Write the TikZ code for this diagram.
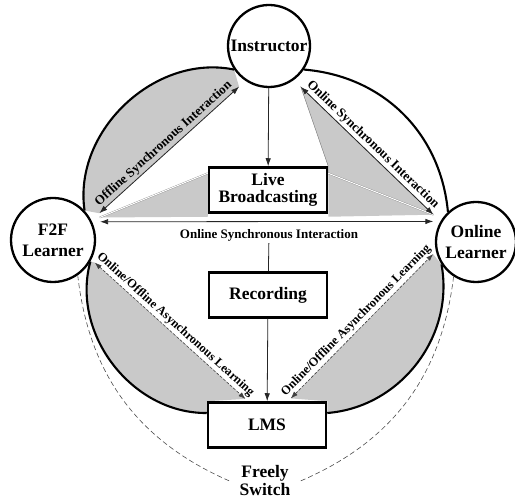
\documentclass[tikz,border=0pt]{standalone}
\usepackage{fontspec}
\setmainfont{Liberation Serif}
\usetikzlibrary{arrows.meta,calc}
\pgfdeclarelayer{bg}
\pgfsetlayers{bg,main}
\begin{document}
\begin{tikzpicture}[x=1pt,y=1pt,
  circ/.style={circle,draw,line width=2.3pt,fill=white,inner sep=0pt,align=center,font=\fontsize{17.5}{21}\selectfont\bfseries},
  box/.style={rectangle,draw,line width=2.5pt,fill=white,minimum width=118pt,minimum height=45pt,inner sep=0pt,align=center,font=\fontsize{17.5}{16.5}\selectfont\bfseries},
  lbl/.style={font=\fontsize{13}{15}\selectfont\bfseries,inner sep=2pt},
  albl/.style={font=\fontsize{12.4}{14}\selectfont\bfseries,inner sep=2pt},
  shadefill/.style={fill=black!21},
  arr/.style={line width=0.8pt,draw=black!85,{Latex[length=8pt,width=5.5pt]}-{Latex[length=8pt,width=5.5pt]}},
  onearr/.style={line width=0.8pt,draw=black!85,-{Latex[length=8pt,width=5.5pt]}},
  darr/.style={line width=0.6pt,draw=black!75,dash pattern=on 3pt off 1.5pt,{Latex[length=7pt,width=5pt]}-{Latex[length=7pt,width=5pt]}},
  outer/.style={line width=2.1pt},
  sw/.style={line width=0.6pt,draw=black!70,dash pattern=on 5pt off 3pt},
  gap/.style={draw=black!50,line width=0.3pt,double=white,double distance=1pt}
]
\useasboundingbox (0,0) rectangle (515,501);

% nodes
\node[circ,minimum size=82pt] (instr) at (269,455) {Instructor};
\node[circ,minimum size=84pt] (f2f) at (53,261) {F2F\\Learner};
\node[circ,minimum size=80pt] (online) at (476,259) {Online\\Learner};
\node[box] (live) at (268,311) {Live\\Broadcasting};
\node[box] (rec) at (268,206) {Recording};
\node[box] (lms) at (267,76) {LMS};
\node[lbl] (hl) at (269,266) {Online Synchronous Interaction};
\node[font=\fontsize{17.5}{18}\selectfont\bfseries,align=center,inner xsep=10pt,inner ysep=2pt] (fs) at (265,20) {Freely\\Switch};

% helper coordinates
\coordinate (lmsL) at ([xshift=-19pt]lms.north);
\coordinate (lmsR) at ([xshift=21pt]lms.north);
\coordinate (A) at ($(f2f.27)!10.7pt!(instr.236)$);
\coordinate (B) at ($(instr.236)!8.6pt!(f2f.27)$);
\coordinate (C) at ($(instr.306)!9.8pt!(online.150)$);
\coordinate (D) at ($(online.150)!9.7pt!(instr.306)$);
\coordinate (E) at ($(f2f.25)!8pt!(online.150)$);
\coordinate (F) at ($(online.150)!7pt!(f2f.25)$);
\coordinate (G) at ($(f2f.333)!4.5pt!(lmsL)$);
\coordinate (H) at ($(lmsL)!3.5pt!(f2f.333)$);
\coordinate (I) at ($(lmsR)!4pt!(online.193)$);
\coordinate (J) at ($(online.193)!4pt!(lmsR)$);
\coordinate (LNE) at ([yshift=-7pt]live.north east);
\coordinate (LNW) at ([yshift=-7pt]live.north west);

% gray regions
\begin{pgfonlayer}{bg}
\fill[shadefill] (f2f.43) to[bend left=55] (instr.214) -- (B) -- (A) -- cycle;
\fill[shadefill] (f2f.330) to[bend right=53] ([yshift=12pt]lms.west) -- (lms.north west) -- (H) -- (G) -- cycle;
\fill[shadefill] (online.213) to[bend left=48] ([yshift=12pt]lms.east) -- (lms.north east) -- (I) -- (J) -- cycle;
\filldraw[shadefill,draw=black!55,line width=0.4pt] (C) -- (live.north east) -- (LNE) -- (D) -- cycle;
\fill[shadefill] (LNE) -- ([yshift=-3pt]live.south east) -- (D) -- cycle;
\fill[shadefill] (LNW) -- ([yshift=-3pt]live.south west) -- ($(A)!0.5!(E)$) -- cycle;
\draw[gap] (LNE) -- (D);
\draw[gap] (LNW) -- ($(A)!0.5!(E)$);
\end{pgfonlayer}

% outer arcs
\draw[outer] (f2f.43) to[bend left=55] (instr.214);
\draw[outer] (instr.326) to[bend left=40] (online.133);
\draw[outer] (f2f.330) to[bend right=53] ([yshift=12pt]lms.west);
\draw[outer] (online.213) to[bend left=48] ([yshift=12pt]lms.east);
\draw[sw] (f2f.305) to[bend right=30] (fs.west);
\draw[sw] (online.237) to[bend left=30] (fs.east);

% arrows
\draw[arr] (A) -- (B) node[midway,sloped,above,lbl]{Offline Synchronous Interaction};
\draw[arr] (C) -- (D) node[midway,sloped,above,lbl]{Online Synchronous Interaction};
\draw[arr] (E) -- (F);
\draw[darr] (G) -- (H) node[midway,sloped,above,albl]{Online/Offline Asynchronous Learning};
\draw[darr] (I) -- (J) node[midway,sloped,above,albl]{Online/Offline Asynchronous Learning};
\draw[onearr] (instr) -- (live);
\draw[line width=0.8pt,draw=black!85] (hl) -- (rec);
\draw[onearr] (rec) -- (lms);
\end{tikzpicture}
\end{document}
